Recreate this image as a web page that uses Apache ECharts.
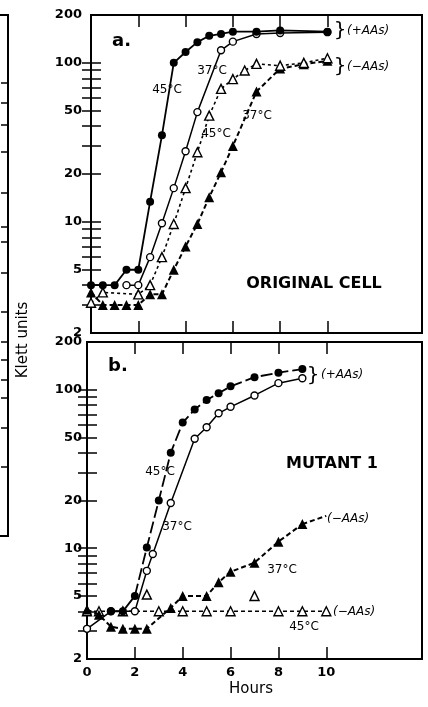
<!DOCTYPE html>
<html>
<head>
<meta charset="utf-8">
<script src="https://cdn.jsdelivr.net/npm/echarts@6/dist/echarts.min.js"></script>
<style>
  html, body { margin: 0; padding: 0; background: #fff; }
  #chart { width: 428px; height: 707px; }
</style>
</head>
<body>
<div id="chart"></div>
<script>
  // a. original cell
  var aHours45Plus = [0, 0.5, 1, 1.5, 2, 2.5, 3, 3.5, 4, 4.5, 5, 5.5, 6, 7, 8, 10];
  var aKlett45Plus = [4.0, 4.0, 4.0, 5.0, 5.0, 13.4, 35, 100, 117, 135, 148, 152, 157, 157, 160, 157];
  var aHours37Plus = [1.5, 2, 2.5, 3, 3.5, 4, 4.5, 5.5, 6, 7, 8, 10];
  var aKlett37Plus = [4.0, 4.0, 6.0, 9.8, 16.3, 27.8, 49, 120, 136, 152, 154, 156];
  var aHours45Minus = [0, 0.5, 2, 2.5, 3, 3.5, 4, 4.5, 5, 5.5, 6, 6.5, 7, 8, 9, 10];
  var aKlett45Minus = [3.1, 3.6, 3.5, 4.0, 6.0, 9.7, 16.3, 27.4, 46.6, 68.6, 79, 89.5, 98.6, 96, 100, 107];
  var aHours37Minus = [0, 0.5, 1, 1.5, 2, 2.5, 3, 3.5, 4, 4.5, 5, 5.5, 6, 7, 8, 9, 10];
  var aKlett37Minus = [3.6, 3.0, 3.0, 3.0, 3.0, 3.5, 3.5, 5.0, 7.0, 9.7, 14.3, 20.5, 30, 66, 92, 98, 103];

  // b. mutant 1
  var bHours45Plus = [1, 1.5, 2, 2.5, 3, 3.5, 4, 4.5, 5, 5.5, 6, 7, 8, 9];
  var bKlett45Plus = [4.0, 4.0, 5.0, 10.1, 20, 40, 62, 75, 86, 95, 105, 120, 128, 135];
  var bHours37Plus = [0, 1, 2, 2.5, 2.75, 3.5, 4.5, 5, 5.5, 6, 7, 8, 9];
  var bKlett37Plus = [3.1, 4.0, 4.0, 7.2, 9.2, 19.3, 49, 58, 71, 78, 92, 110, 118];
  var bHours37Minus = [0, 0.5, 1, 1.5, 2, 2.5, 3.5, 4, 5, 5.5, 6, 7, 8, 9];
  var bKlett37Minus = [4.1, 3.8, 3.2, 3.1, 3.1, 3.1, 4.2, 5.0, 5.0, 6.1, 7.1, 8.1, 11, 14.2];
  var bHours37Tail = [9, 10];
  var bKlett37Tail = [14.2, 16];
  var bHours45Minus = [0, 0.5, 1.5, 3, 4, 5, 6, 8, 9, 10];
  var bKlett45Minus = [4.0, 4.0, 4.0, 4.0, 4.0, 4.0, 4.0, 4.0, 4.0, 4.0];
  var bHours45Stray = [2.5, 7];
  var bKlett45Stray = [5.1, 5.0];

  // axes
  var hourTicks = [2, 4, 6, 8, 10];
  var hourLabels = [0, 2, 4, 6, 8, 10];
  var klettLabels = [2, 5, 10, 20, 50, 100, 200];
  var klettTicks = [3, 4, 5, 6, 7, 8, 9, 10, 20, 30, 40, 50, 60, 70, 80, 90, 100];

  var LOG_MIN = Math.log10(2), LOG_MAX = Math.log10(200);
  var FONT = '"DejaVu Sans", sans-serif';

  function logPts(xs, ys) {
    return xs.map(function (x, i) { return [x, Math.log10(ys[i])]; });
  }
  function logs(vals) {
    return vals.map(function (v) { return Math.log10(v); });
  }

  function xAxes(grid, showLabels) {
    var base = {
      type: 'value', gridIndex: grid, min: 0, max: 14, interval: 2,
      axisLine: { show: false }, splitLine: { show: false },
      axisTick: { show: true, inside: true, length: 12, customValues: hourTicks,
        lineStyle: { color: '#000', width: 1.5 } }
    };
    var bottom = echarts.util.merge({
      position: 'bottom',
      axisLabel: { show: showLabels, customValues: hourLabels, margin: 7, color: '#000',
        fontFamily: FONT, fontWeight: 'bold', fontSize: 13 }
    }, base, true);
    var top = echarts.util.merge({ position: 'top', axisLabel: { show: false } }, base, true);
    return [bottom, top];
  }

  function yAxes(grid, margin) {
    var base = {
      type: 'value', gridIndex: grid, min: LOG_MIN, max: LOG_MAX,
      axisLine: { show: false }, splitLine: { show: false },
      axisTick: { show: true, inside: true, length: 10, customValues: logs(klettTicks),
        lineStyle: { color: '#000', width: 1.5 } }
    };
    var left = echarts.util.merge({
      position: 'left',
      axisLabel: { customValues: logs(klettLabels), margin: margin, color: '#000',
        fontFamily: FONT, fontWeight: 'bold', fontSize: 13,
        formatter: function (v) { return Math.round(Math.pow(10, v)); } }
    }, base, true);
    var right = echarts.util.merge({ position: 'right', axisLabel: { show: false } }, base, true);
    right.axisTick.length = 9;
    return [left, right];
  }

  function curve(axis, xs, ys, symbol, filled, size, dash, width, z) {
    return {
      type: 'line', xAxisIndex: axis, yAxisIndex: axis,
      data: logPts(xs, ys),
      symbol: symbol, symbolSize: size, showSymbol: true,
      lineStyle: { color: '#000', width: width, type: dash },
      itemStyle: filled ? { color: '#000', opacity: 1 }
        : { color: '#fff', borderColor: '#000', borderWidth: 1.4, opacity: 1 },
      z: z
    };
  }

  function txt(x, y, s, font, align) {
    return {
      type: 'text', x: x, y: y, z: 100,
      style: { text: s, font: font, fill: '#000',
        textAlign: align || 'center', align: align || 'center',
        textVerticalAlign: 'middle', verticalAlign: 'middle' }
    };
  }

  var small = '12px ' + FONT;
  var ital = 'italic 12px ' + FONT;
  var brace = '20px ' + FONT;

  var graphics = [
    txt(112, 41, 'a.', 'bold 18px ' + FONT, 'left'),
    txt(167, 90, '45°C', small),
    txt(212, 71, '37°C', small),
    txt(216, 134, '45°C', small),
    txt(257, 116, '37°C', small),
    txt(340, 31, '}', brace),
    txt(347, 31, '(+AAs)', ital, 'left'),
    txt(340, 67, '}', brace),
    txt(347, 67, '(\u2212AAs)', ital, 'left'),
    txt(314, 284, 'ORIGINAL CELL', 'bold 16px ' + FONT),
    txt(108, 366, 'b.', 'bold 18px ' + FONT, 'left'),
    txt(160, 472, '45°C', small),
    txt(177, 527, '37°C', small),
    txt(313, 376, '}', brace),
    txt(321, 375, '(+AAs)', ital, 'left'),
    txt(332, 464, 'MUTANT 1', 'bold 16px ' + FONT),
    txt(327, 519, '(\u2212AAs)', ital, 'left'),
    txt(282, 570, '37°C', small),
    txt(333, 612, '(\u2212AAs)', ital, 'left'),
    txt(304, 627, '45°C', small),
    txt(251, 689, 'Hours', '15px ' + FONT),
    {
      type: 'text', x: 23, y: 340, rotation: Math.PI / 2, z: 100,
      style: { text: 'Klett units', font: '15px ' + FONT, fill: '#000',
        textAlign: 'center', align: 'center', textVerticalAlign: 'middle', verticalAlign: 'middle' }
    },
    // edge of the neighbouring figure
    {
      type: 'polyline', z: 100,
      shape: { points: [[0, 15], [8, 15], [8, 536], [0, 536]] },
      style: { stroke: '#000', lineWidth: 2, fill: null }
    }
  ];
  [83, 103, 125, 152, 193, 227, 242, 273, 312, 342, 360, 380, 398, 428, 467].forEach(function (y) {
    graphics.push({ type: 'line', z: 100, shape: { x1: 1, y1: y, x2: 8, y2: y },
      style: { stroke: '#000', lineWidth: 1.5 } });
  });

  var chart = echarts.init(document.getElementById('chart'));
  chart.setOption({
    animation: false,
    backgroundColor: '#fff',
    grid: [
      { left: 91, top: 15, width: 331, height: 318, show: true, borderColor: '#000', borderWidth: 2 },
      { left: 87, top: 342, width: 335, height: 317, show: true, borderColor: '#000', borderWidth: 2 }
    ],
    xAxis: xAxes(0, false).concat(xAxes(1, true)),
    yAxis: yAxes(0, 9).concat(yAxes(1, 5)),
    series: [
      curve(0, aHours37Minus, aKlett37Minus, 'triangle', true, 10, [5, 3], 2, 3),
      curve(0, aHours45Minus, aKlett45Minus, 'triangle', false, 9, [3, 3], 1.6, 4),
      curve(0, aHours37Plus, aKlett37Plus, 'circle', false, 7, 'solid', 1.5, 4),
      curve(0, aHours45Plus, aKlett45Plus, 'circle', true, 8, 'solid', 1.8, 5),

      curve(2, bHours45Minus, bKlett45Minus, 'triangle', false, 9, [4, 3], 1.5, 3),
      {
        type: 'scatter', xAxisIndex: 2, yAxisIndex: 2,
        data: logPts(bHours45Stray, bKlett45Stray),
        symbol: 'triangle', symbolSize: 9, z: 3,
        itemStyle: { color: '#fff', borderColor: '#000', borderWidth: 1.4, opacity: 1 }
      },
      curve(2, bHours37Minus, bKlett37Minus, 'triangle', true, 10, [5, 3], 2, 4),
      curve(2, bHours37Tail, bKlett37Tail, 'none', true, 0, [5, 3], 2, 4),
      curve(2, bHours37Plus, bKlett37Plus, 'circle', false, 7, 'solid', 1.5, 4),
      curve(2, bHours45Plus, bKlett45Plus, 'circle', true, 8, [12, 4], 1.8, 5)
    ],
    graphic: graphics
  });
</script>
</body>
</html>
